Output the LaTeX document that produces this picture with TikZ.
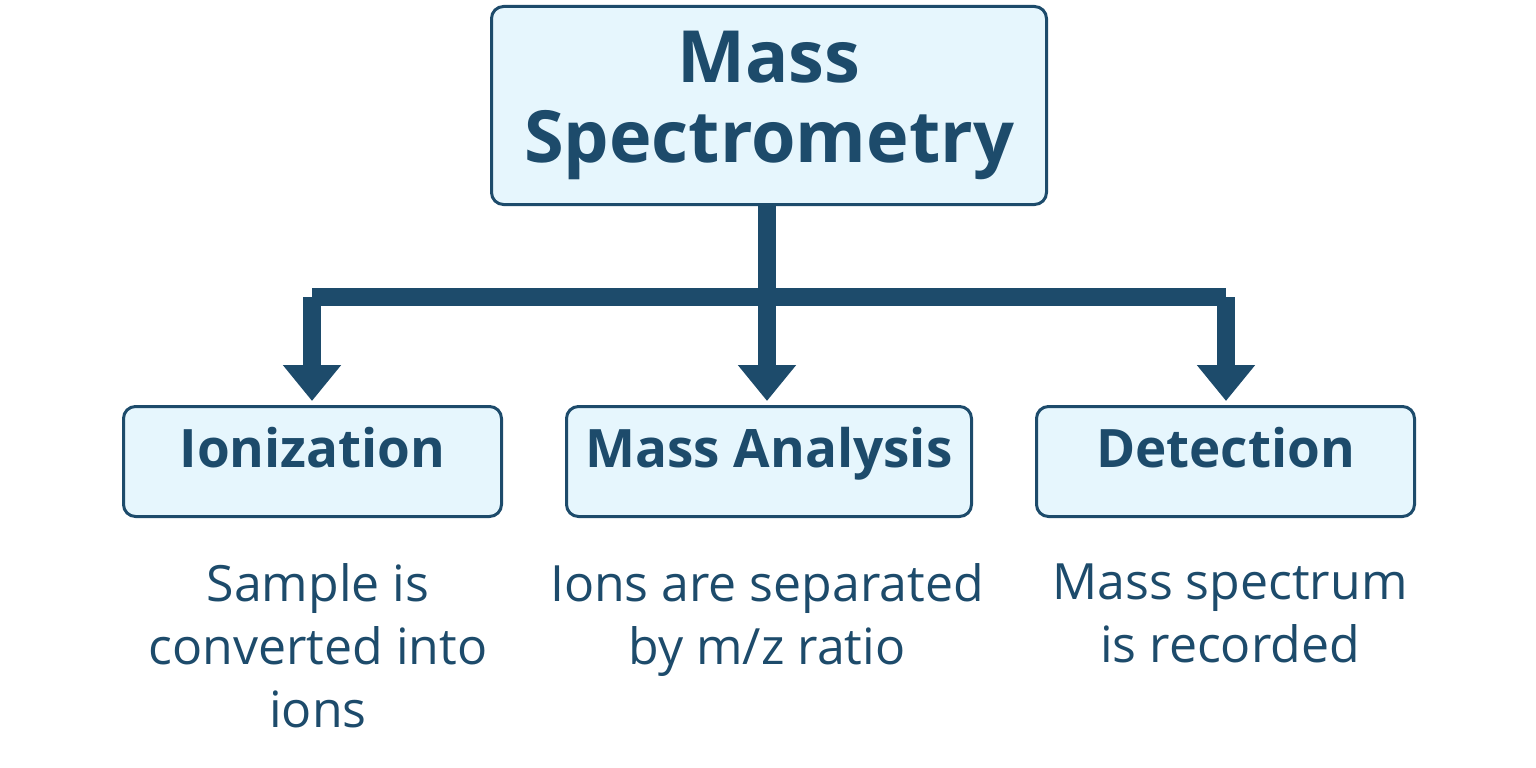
\documentclass[tikz,border=0pt]{standalone}
\usepackage{fontspec}
\setmainfont{Open Sans}
\usetikzlibrary{arrows.meta}
\definecolor{dk}{HTML}{1D4B6B}
\definecolor{lf}{HTML}{E6F6FD}
\begin{document}
\begin{tikzpicture}[x=1pt,y=-1pt,
 box/.style={draw=dk,line width=3pt,fill=lf,rounded corners=12pt,text=dk,font=\bfseries\fontsize{53}{58}\selectfont,inner sep=0pt,anchor=north west,text height=30pt,text depth=18pt},
 desc/.style={text=dk,font=\fontsize{50}{63}\selectfont,align=center,anchor=north},
 conn/.style={draw=dk,line width=18pt,line join=round},
 arr/.style={conn,-{Triangle[width=56pt,length=36pt]},shorten >=4pt}]
\useasboundingbox (0,0) rectangle (1536,768);
\node[box,minimum width=555pt,minimum height=198pt,font=\bfseries\fontsize{72}{80}\selectfont,align=center,text height=,text depth=] (top) at (490,5) {Mass\\Spectrometry};
\node[box,minimum width=378pt,minimum height=110pt] (ion) at (122,405) {Ionization};
\node[box,minimum width=405pt,minimum height=110pt] (ma) at (565,405) {Mass Analysis};
\node[box,minimum width=378pt,minimum height=110pt] (det) at (1035,405) {Detection};
\coordinate (j) at (767,297);
\coordinate (jl) at (312,297);
\coordinate (jr) at (1226,297);
\draw[conn] (top.south -| j) -- (j);
\draw[conn,rounded corners=4pt] (jl) -- (jr);
\draw[arr] (jl) -- (jl |- ion.north);
\draw[arr] (j) -- (j |- ma.north);
\draw[arr] (jr) -- (jr |- det.north);
\node[desc] (d1) at (318,560) {Sample is\\converted into\\ions};
\node[desc] (d2) at (767,560) {Ions are separated\\by m/z ratio};
\node[desc] (d3) at (1230,560) {Mass spectrum\\is recorded};
\end{tikzpicture}
\end{document}
